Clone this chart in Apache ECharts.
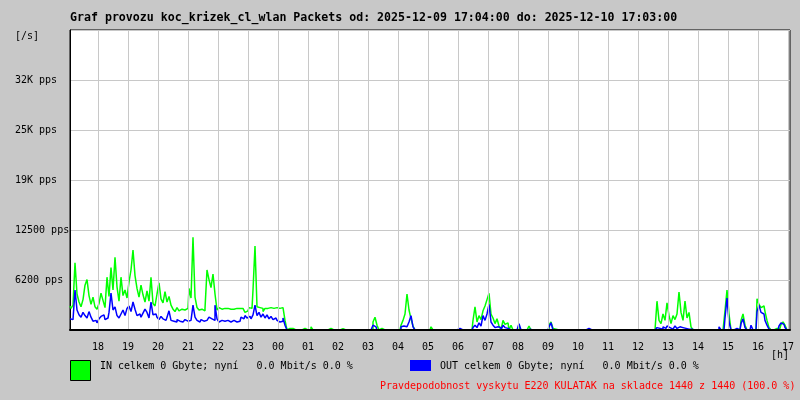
<!DOCTYPE html>
<html>
<head>
<meta charset="utf-8">
<style>
html,body{margin:0;padding:0;background:#c8c8c8;}
#chart{width:800px;height:400px;}
</style>
<script src="https://cdn.jsdelivr.net/npm/echarts@6/dist/echarts.min.js"></script>
</head>
<body>
<div id="chart"></div>
<script>
// Time grid: first sample at 17:04 (minute 4 after 17:00), one sample every 4 minutes
const startMinute = 4;
const stepMinutes = 4;
const axisMinMinute = 4;
const axisMaxMinute = 1444;

// Hour tick positions (minutes after 17:00 of day 1) and their labels
const hourTickMinutes = [60,120,180,240,300,360,420,480,540,600,660,720,780,840,900,960,1020,1080,1140,1200,1260,1320,1380,1440];
const hourTickLabels = ['18','19','20','21','22','23','00','01','02','03','04','05','06','07','08','09','10','11','12','13','14','15','16','17'];

// Y axis ticks and their labels
const yTickValues = [0, 6250, 12500, 18750, 25000, 31250, 37500];
const yTickLabels = ['', '6200 pps', '12500 pps', '19K pps', '25K pps', '32K pps', ''];

// IN packets per second
const inPps = [
3000,2700,3100,8400,4500,3500,2900,3800,5600,6300,
4300,3200,4100,2900,2600,3300,4600,3700,2800,6600,
4200,7800,5000,9100,5400,3600,6600,4300,5000,4000,
6000,7500,10000,6800,5200,4100,5600,4400,3500,4900,
3600,6600,3300,3000,4500,5900,3900,3400,4800,3500,
4200,3100,2600,2300,2800,2400,2600,2500,2400,2700,
5200,4000,11600,4100,2800,2500,2600,2400,2700,7500,
6300,5300,7000,4500,2500,2800,2600,2700,2600,2700,
2600,2700,2600,2700,2600,2700,2700,2500,2200,2400,
2800,2700,5000,10500,2900,2800,2700,2300,2700,2700,
2800,2700,2700,2800,2700,2700,2800,2900,1200,0,
200,200,0,0,0,0,0,200,0,0,
0,400,0,0,0,0,0,0,0,0,
200,0,0,0,150,0,150,0,0,0,
0,0,0,0,0,0,0,0,0,0,
0,0,1000,1600,600,0,200,0,0,0,
0,0,0,0,0,0,600,1200,2000,4500,
2500,1400,500,0,0,0,0,0,0,0,
0,400,0,0,0,200,0,0,0,0,
0,0,0,0,0,0,0,0,0,0,
0,0,1200,2900,1000,1800,1300,2400,3000,3800,
4600,2000,1500,800,1400,500,0,1200,700,900,
0,600,0,0,0,500,0,0,0,0,
500,0,0,0,0,0,0,0,0,0,
600,1000,200,100,0,0,0,0,0,0,
0,0,0,0,0,0,0,0,0,0,
0,0,0,0,0,0,0,0,0,0,
0,0,0,0,0,0,0,0,0,0,
0,0,0,0,0,0,0,0,0,0,
0,0,0,0,3600,1200,800,2000,1200,3400,
1800,800,1800,1300,2000,4750,2200,1200,3600,1500,
2200,400,0,0,0,0,0,0,0,0,
0,0,0,0,0,0,0,0,2400,5000,
2000,0,0,0,0,0,1200,2000,600,0,
0,0,200,0,3900,3200,2800,3000,2300,1200,
300,0,0,200,100,200,700,1000,600,0
];

// OUT packets per second
const outPps = [
1400,1300,1500,5000,2500,1900,1600,2200,1800,1500,
2300,1600,1100,1200,900,1400,1700,1900,1300,1500,
2200,4600,2500,2900,1800,1500,2000,2500,1800,2700,
3000,2300,3500,2600,1800,2000,1600,2100,2600,2200,
1500,3500,1900,2000,1600,1300,1700,1400,1200,1600,
2400,1200,1100,1000,1300,1100,1000,1200,1300,1100,
1200,1400,3100,1600,1200,1000,1300,1100,1200,1300,
1600,1400,1200,3100,1400,1000,1200,1100,1100,1200,
1000,1100,1200,1000,1100,1100,1600,1400,1800,1500,
1700,1400,1900,3100,1800,2200,1600,2000,1500,1900,
1400,1700,1300,1500,1200,1000,1100,1500,600,0,
0,0,100,0,0,0,0,0,0,0,
0,0,0,0,0,0,0,0,0,0,
0,0,0,0,0,0,0,0,0,0,
0,0,0,0,0,0,0,0,0,0,
0,0,600,400,0,0,0,0,0,0,
0,0,0,0,0,0,400,500,400,600,
1000,1800,400,0,0,0,0,0,0,0,
0,0,0,0,0,0,0,0,0,0,
0,0,0,0,0,200,0,0,0,0,
0,0,300,600,300,900,500,1800,1200,2000,
3200,1000,600,300,400,300,0,600,300,200,
0,200,0,0,0,800,0,0,0,0,
100,0,0,0,0,0,0,0,0,0,
400,900,0,0,0,0,0,0,0,0,
0,0,0,0,0,0,0,0,0,200,
200,0,0,0,0,0,0,0,0,0,
0,0,0,0,0,0,0,0,0,0,
0,0,0,0,0,0,0,0,0,0,
0,0,0,0,300,200,100,400,200,500,
300,100,300,500,200,400,300,500,200,100,
300,100,0,0,0,0,0,0,0,0,
0,0,150,0,0,400,0,0,1500,4000,
1000,0,0,200,0,0,800,1400,300,0,
0,600,0,0,2300,3100,2200,2000,1200,600,
100,0,0,0,0,500,900,700,300,0
];

const titleText = 'Graf provozu koc_krizek_cl_wlan Packets od: 2025-12-09 17:04:00 do: 2025-12-10 17:03:00';
const inLegendText = 'IN celkem 0 Gbyte; nyní   0.0 Mbit/s 0.0 %';
const outLegendText = 'OUT celkem 0 Gbyte; nyní   0.0 Mbit/s 0.0 %';
const footerText = 'Pravdepodobnost vyskytu E220 KULATAK na skladce 1440 z 1440 (100.0 %)';
const yUnitText = '[/s]';
const xUnitText = '[h]';

const MONO = '"DejaVu Sans Mono", "Liberation Mono", monospace';

const toPairs = arr => arr.map((v, i) => [startMinute + i * stepMinutes, v]);

const chart = echarts.init(document.getElementById('chart'), null, {renderer: 'canvas'});
chart.setOption({
  animation: false,
  backgroundColor: '#c8c8c8',
  title: {
    text: titleText,
    left: 70, top: 12,
    padding: 0,
    textStyle: {fontFamily: MONO, fontSize: 11.6, fontWeight: 'bold', color: '#000'}
  },
  grid: {
    left: 70, right: 10, top: 30, bottom: 70,
    show: true, backgroundColor: '#ffffff', borderColor: '#000', borderWidth: 1
  },
  xAxis: {
    type: 'value',
    min: axisMinMinute, max: axisMaxMinute,
    z: 3,
    axisLine: {show: true, lineStyle: {color: '#000', width: 2}},
    axisTick: {show: false, customValues: hourTickMinutes},
    splitLine: {show: true, lineStyle: {color: '#c8c8c8', width: 1}},
    axisLabel: {
      customValues: hourTickMinutes,
      margin: 12,
      fontFamily: MONO, fontSize: 10, color: '#000',
      formatter: v => hourTickLabels[hourTickMinutes.indexOf(v)]
    }
  },
  yAxis: {
    type: 'value',
    min: 0, max: 37500, interval: 6250,
    axisLine: {show: true, lineStyle: {color: '#000', width: 1}},
    axisTick: {show: false},
    splitLine: {show: true, lineStyle: {color: '#c8c8c8', width: 1}},
    axisLabel: {
      align: 'left', margin: 55,
      padding: [4, 0, 0, 0],
      fontFamily: MONO, fontSize: 10, color: '#000',
      formatter: v => yTickLabels[yTickValues.indexOf(v)]
    }
  },
  series: [
    {
      name: 'IN', type: 'line', data: toPairs(inPps),
      step: 'middle', showSymbol: false, symbol: 'none',
      lineStyle: {color: '#00ff00', width: 1.5}, z: 2
    },
    {
      name: 'OUT', type: 'line', data: toPairs(outPps),
      step: 'middle', showSymbol: false, symbol: 'none',
      lineStyle: {color: '#0000ff', width: 1.5}, z: 2
    }
  ],
  graphic: [
    {type: 'text', left: 15, top: 31, style: {text: yUnitText, font: '10px ' + MONO, fill: '#000'}},
    {type: 'text', left: 771, top: 350, style: {text: xUnitText, font: '10px ' + MONO, fill: '#000'}},
    {type: 'rect', shape: {x: 70.5, y: 360.5, width: 20, height: 20}, style: {fill: '#00ff00', stroke: '#000', lineWidth: 1}},
    {type: 'text', left: 100, top: 361, style: {text: inLegendText, font: '10px ' + MONO, fill: '#000'}},
    {type: 'rect', shape: {x: 410, y: 360, width: 21, height: 11}, style: {fill: '#0000ff'}},
    {type: 'text', left: 440, top: 361, style: {text: outLegendText, font: '10px ' + MONO, fill: '#000'}},
    {type: 'text', left: 380, top: 381, style: {text: footerText, font: '10px ' + MONO, fill: '#ff0000'}}
  ]
});
</script>
</body>
</html>
